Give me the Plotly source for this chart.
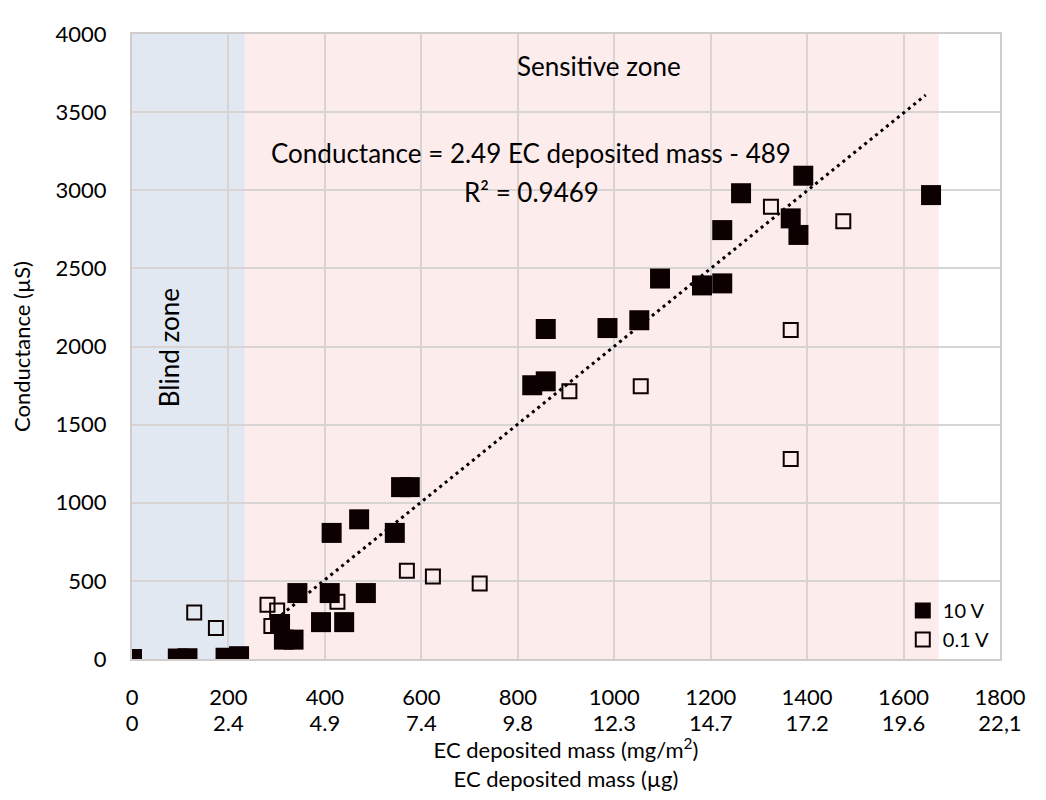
import plotly.graph_objects as go

# ---- data ----
mass_10v = [0, 95, 115, 194, 222, 307, 315, 335, 343, 392, 410, 414, 440, 471, 485, 545, 558, 576,
            830, 858, 858, 986, 1052, 1095, 1182, 1224, 1224, 1263, 1366, 1382, 1392, 1657]
cond_10v = [0, 3, 5, 8, 18, 224, 124, 124, 422, 236, 422, 807, 236, 894, 422, 807, 1100, 1100,
            1752, 1777, 2112, 2118, 2168, 2435, 2391, 2404, 2745, 2981, 2820, 2714, 3093, 2969]

mass_01v = [129, 174, 281, 289, 301, 426, 570, 624, 721, 907, 1055, 1325, 1366, 1366, 1475]
cond_01v = [298, 199, 348, 211, 311, 366, 565, 528, 484, 1714, 1745, 2894, 2105, 1280, 2801]

slope, intercept = 2.49, -489
trend_x = [310, 1646]
trend_y = [slope * v + intercept for v in trend_x]

blind_zone = [0, 234]
sensitive_zone = [234, 1673]

x_ticks = [0, 200, 400, 600, 800, 1000, 1200, 1400, 1600, 1800]
x_ticks_mg = ["0", "200", "400", "600", "800", "1000", "1200", "1400", "1600", "1800"]
x_ticks_ug = ["0", "2.4", "4.9", "7.4", "9.8", "12.3", "14.7", "17.2", "19.6", "22,1"]
y_ticks = [0, 500, 1000, 1500, 2000, 2500, 3000, 3500, 4000]

FONT = "Lato"
DARK = "#0d0000"
TICK = 22
BIG = 26

fig = go.Figure()

fig.add_trace(go.Scatter(x=trend_x, y=trend_y, mode="lines",
                         line=dict(color="black", width=3, dash="3px,4px"),
                         showlegend=False, hoverinfo="skip"))
fig.add_trace(go.Scatter(x=mass_10v, y=cond_10v, mode="markers", name="10 V",
                         marker=dict(symbol="square", size=20, color=DARK,
                                     line=dict(width=0))))
fig.add_trace(go.Scatter(x=mass_01v, y=cond_01v, mode="markers", name="0.1 V",
                         marker=dict(symbol="square-open", size=14, color=DARK,
                                     line=dict(width=2, color=DARK))))
# invisible trace to carry the second (µg) x axis
fig.add_trace(go.Scatter(x=[0, 1800], y=[None, None], xaxis="x2", mode="markers",
                         showlegend=False, hoverinfo="skip"))

fig.add_shape(type="rect", xref="x", yref="y", x0=blind_zone[0], x1=blind_zone[1],
              y0=0, y1=4000, fillcolor="#e1e8f2", line=dict(width=0), layer="below")
fig.add_shape(type="rect", xref="x", yref="y", x0=sensitive_zone[0], x1=sensitive_zone[1],
              y0=0, y1=4000, fillcolor="#fdecec", line=dict(width=0), layer="below")

fig.add_annotation(x=77, y=1990, text="Blind zone", textangle=-90, showarrow=False,
                   font=dict(family=FONT, size=BIG, color="black"))
fig.add_annotation(x=968, y=3795, text="Sensitive zone", showarrow=False,
                   font=dict(family=FONT, size=BIG, color="black"))
fig.add_annotation(x=828, y=3236, text="Conductance = 2.49 EC deposited mass - 489",
                   showarrow=False, font=dict(family=FONT, size=BIG, color="black"))
fig.add_annotation(x=828, y=2990, text="R² = 0.9469",
                   showarrow=False, font=dict(family=FONT, size=BIG, color="black"))

fig.update_layout(
    width=1030, height=784,
    margin=dict(l=119, r=20, t=16, b=124),
    paper_bgcolor="white", plot_bgcolor="white",
    font=dict(family=FONT, size=TICK, color="black"),
    legend=dict(x=0.888, y=0.0, xanchor="left", yanchor="bottom",
                bgcolor="rgba(0,0,0,0)", font=dict(size=20),
                itemwidth=30, tracegroupgap=0),
    showlegend=True,
    xaxis=dict(range=[0, 1800], tickvals=x_ticks, ticktext=x_ticks_mg,
               showgrid=True, gridcolor="#d9d4d4", gridwidth=2,
               showline=True, linecolor="#d0cccc", linewidth=2, mirror=True,
               zeroline=False, ticks="", tickfont=dict(size=TICK),
               ticklabelstandoff=18, ticklabeloverflow="allow"),
    xaxis2=dict(range=[0, 1800], tickvals=x_ticks, ticktext=x_ticks_ug,
                overlaying="x", side="bottom", anchor="y",
                showgrid=False, showline=False, zeroline=False, ticks="",
                tickfont=dict(size=TICK), ticklabelstandoff=49, ticklabeloverflow="allow",
                title=dict(text="EC deposited mass (mg/m<sup>2</sup>)<br>EC deposited mass (µg)",
                           font=dict(size=TICK), standoff=0)),
    yaxis=dict(range=[0, 4000], tickvals=y_ticks,
               showgrid=True, gridcolor="#d9d4d4", gridwidth=2,
               showline=True, linecolor="#d0cccc", linewidth=2, mirror=True,
               zeroline=False, ticks="", tickfont=dict(size=TICK), ticklabelstandoff=19,
               title=dict(text="Conductance (µS)", font=dict(size=TICK), standoff=20)),
)

fig.write_html("out.html")
